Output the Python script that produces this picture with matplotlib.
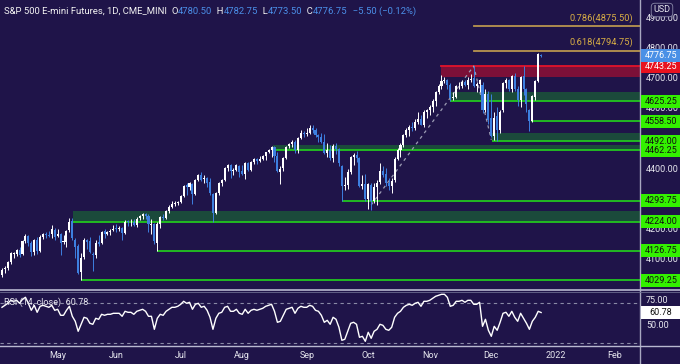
import matplotlib
matplotlib.use("Agg")
import matplotlib.pyplot as plt
from matplotlib.patches import Rectangle
from matplotlib.lines import Line2D
import numpy as np

# ---------------- data ----------------
opens = [4048, 4066, 4070, 4090, 4118, 4117, 4131, 4117, 4160, 4176, 4155, 4122, 4163, 4128, 4172, 4184, 4180, 4182, 4198,
         4178, 4185, 4158, 4158, 4196, 4228, 4165, 4142, 4058, 4106, 4163, 4160, 4118, 4112, 4157, 4152, 4192, 4184, 4190, 4196,
         4202, 4199, 4205, 4188, 4226, 4222, 4224, 4215, 4236, 4244, 4250, 4242, 4215, 4217, 4155, 4218, 4240, 4238, 4261, 4275, 4285, 4287,
         4290, 4310, 4346, 4340, 4350, 4318, 4365, 4380, 4366, 4370, 4358, 4318, 4255, 4320, 4355, 4364, 4405, 4415, 4395, 4396, 4410,
         4392, 4385, 4420, 4398, 4425, 4432, 4428, 4435, 4443, 4457, 4465, 4474, 4445, 4390, 4402, 4438, 4476, 4482, 4490, 4462, 4504, 4520,
         4515, 4520, 4535, 4530, 4513, 4507, 4490, 4455, 4463, 4437, 4478, 4468, 4410, 4345, 4348, 4390, 4440, 4447, 4437, 4345, 4350,
         4300, 4348, 4295, 4340, 4357, 4392, 4382, 4355, 4345, 4362, 4433, 4465, 4480, 4512, 4530, 4540, 4535, 4557, 4565, 4545, 4590,
         4597, 4605, 4628, 4655, 4675, 4692, 4695, 4680, 4635, 4640, 4675, 4675, 4690, 4680, 4698, 4703, 4678, 4683, 4680, 4595, 4650,
         4570, 4510, 4575, 4530, 4595, 4685, 4697, 4667, 4710, 4665, 4630, 4710, 4665, 4595, 4560, 4640, 4692, 4780.5]
highs = [4070, 4078, 4095, 4122, 4125, 4135, 4140, 4163, 4182, 4180, 4160, 4166, 4172, 4180, 4188, 4190, 4195, 4215, 4202,
         4200, 4188, 4180, 4198, 4238, 4236, 4170, 4150, 4120, 4170, 4168, 4175, 4125, 4165, 4180, 4195, 4200, 4195, 4200, 4215,
         4218, 4210, 4207, 4230, 4230, 4235, 4235, 4240, 4248, 4253, 4255, 4250, 4235, 4220, 4222, 4245, 4250, 4265, 4280, 4292, 4295, 4295,
         4312, 4348, 4355, 4358, 4352, 4368, 4383, 4390, 4380, 4375, 4370, 4320, 4325, 4358, 4368, 4408, 4418, 4418, 4405, 4418, 4412,
         4415, 4422, 4425, 4428, 4438, 4436, 4442, 4448, 4458, 4467, 4478, 4476, 4458, 4410, 4440, 4478, 4485, 4495, 4495, 4508, 4530, 4525,
         4535, 4545, 4548, 4535, 4518, 4520, 4518, 4485, 4480, 4482, 4485, 4470, 4415, 4375, 4400, 4445, 4452, 4460, 4440, 4380, 4385,
         4355, 4355, 4352, 4362, 4420, 4410, 4405, 4370, 4370, 4440, 4470, 4485, 4518, 4535, 4545, 4555, 4565, 4590, 4580, 4595, 4600,
         4612, 4632, 4660, 4682, 4712, 4705, 4700, 4688, 4655, 4680, 4690, 4698, 4695, 4705, 4715, 4743.25, 4690, 4700, 4690, 4665, 4660,
         4650, 4590, 4605, 4598, 4690, 4702, 4700, 4712, 4720, 4675, 4710, 4743, 4670, 4600, 4645, 4695, 4786, 4782.75]
lows = [4040, 4055, 4065, 4082, 4105, 4110, 4108, 4115, 4155, 4145, 4110, 4115, 4118, 4122, 4168, 4170, 4172, 4170, 4165,
        4172, 4115, 4150, 4140, 4190, 4165, 4105, 4050, 4029.25, 4100, 4135, 4120, 4060, 4105, 4145, 4150, 4170, 4180, 4180, 4192,
        4190, 4192, 4163, 4185, 4210, 4210, 4210, 4208, 4230, 4232, 4235, 4190, 4185, 4150, 4126.75, 4205, 4230, 4235, 4255, 4270, 4278, 4280,
        4288, 4308, 4315, 4330, 4285, 4315, 4360, 4360, 4355, 4340, 4315, 4224, 4250, 4315, 4345, 4360, 4395, 4370, 4380, 4392, 4375,
        4380, 4368, 4395, 4395, 4418, 4418, 4422, 4430, 4430, 4452, 4440, 4425, 4390, 4350, 4395, 4435, 4470, 4475, 4455, 4455, 4500, 4505,
        4510, 4515, 4520, 4505, 4490, 4485, 4450, 4440, 4430, 4425, 4450, 4410, 4293.75, 4330, 4335, 4385, 4415, 4425, 4340, 4335, 4295,
        4268, 4262, 4288, 4280, 4350, 4375, 4345, 4330, 4320, 4358, 4430, 4440, 4475, 4505, 4510, 4525, 4530, 4550, 4545, 4540, 4570,
        4580, 4590, 4610, 4650, 4665, 4685, 4665, 4625.25, 4630, 4635, 4668, 4670, 4675, 4665, 4690, 4672, 4655, 4655, 4585, 4590, 4550,
        4505, 4495, 4492, 4520, 4590, 4670, 4660, 4655, 4660, 4610, 4605, 4645, 4590, 4528, 4555, 4630, 4690, 4773.5]
closes = [4065, 4070, 4090, 4120, 4118, 4130, 4115, 4160, 4178, 4155, 4125, 4163, 4128, 4173, 4183, 4180, 4178, 4200, 4175,
          4185, 4155, 4158, 4195, 4225, 4170, 4140, 4055, 4105, 4165, 4158, 4125, 4112, 4155, 4150, 4190, 4183, 4190, 4195, 4200,
          4200, 4205, 4188, 4225, 4222, 4223, 4215, 4235, 4243, 4250, 4242, 4218, 4218, 4160, 4218, 4240, 4237, 4260, 4275, 4285, 4287, 4290,
          4310, 4345, 4340, 4353, 4318, 4365, 4380, 4365, 4370, 4355, 4320, 4255, 4320, 4355, 4363, 4405, 4415, 4395, 4395, 4412, 4390,
          4385, 4420, 4398, 4425, 4432, 4428, 4435, 4443, 4457, 4465, 4475, 4445, 4392, 4400, 4437, 4475, 4482, 4490, 4462, 4503, 4520, 4515,
          4520, 4535, 4530, 4513, 4507, 4490, 4455, 4463, 4437, 4478, 4468, 4420, 4345, 4348, 4390, 4440, 4447, 4437, 4345, 4350, 4300,
          4350, 4295, 4340, 4355, 4392, 4380, 4355, 4345, 4360, 4433, 4465, 4480, 4512, 4530, 4540, 4535, 4557, 4565, 4545, 4590, 4597,
          4605, 4628, 4655, 4675, 4692, 4695, 4680, 4635, 4640, 4675, 4675, 4690, 4680, 4698, 4700, 4678, 4683, 4695, 4595, 4650, 4562,
          4510, 4570, 4530, 4590, 4685, 4697, 4665, 4710, 4665, 4630, 4705, 4665, 4615, 4558.5, 4642, 4692, 4782.25, 4776.75]
rsi = [66, 68, 70, 73, 72, 73, 70, 74, 76, 70, 63, 68, 61, 67, 68, 67, 66, 68, 63,
       64, 58, 58, 63, 67, 57, 52, 42, 49, 56, 55, 50, 49, 55, 54, 59, 58, 59, 59, 60,
       60, 60, 57, 62, 61, 61, 59, 62, 63, 64, 62, 57, 57, 44, 55, 59, 58, 62, 64, 66, 66, 67,
       69, 72, 70, 71, 64, 69, 70, 66, 67, 63, 56, 44, 55, 60, 61, 66, 67, 62, 62, 64, 60,
       59, 64, 60, 63, 64, 63, 64, 65, 67, 68, 69, 62, 51, 52, 58, 64, 65, 66, 60, 65, 67, 66,
       66, 68, 67, 63, 62, 58, 51, 53, 49, 56, 54, 46, 33, 34, 42, 50, 51, 49, 36, 37, 32,
       41, 35, 42, 44, 49, 48, 44, 43, 46, 56, 60, 62, 66, 68, 69, 68, 70, 71, 67, 72, 72,
       73, 75, 77, 78, 79, 79, 76, 67, 68, 72, 72, 73, 71, 73, 73, 69, 69, 71, 47, 54, 43,
       37, 47, 43, 51, 60, 61, 57, 62, 56, 52, 60, 55, 50, 44, 52, 56, 62, 60.78]
assert len(opens) == len(highs) == len(lows) == len(closes) == len(rsi) == 185

month_labels = ["May", "Jun", "Jul", "Aug", "Sep", "Oct", "Nov", "Dec", "2022", "Feb"]
month_bars = [19, 39, 61, 82, 104, 125, 146, 167, 189, 209]
price_ticks = [4100, 4200, 4400, 4600, 4700, 4800, 4900]   # the others are hidden behind level boxes

support_levels = [4625.25, 4558.50, 4492.00, 4462.25, 4293.75, 4224.00, 4126.75, 4029.25]
support_starts = [153, 180.5, 167.2, 92.5, 116, 24.2, 53, 27]
zone_lows = [4224.0, 4462.25, 4492.0, 4625.25]
zone_highs = [4260.0, 4480.0, 4520.0, 4657.0]
zone_starts = [24.2, 92.5, 167.2, 153]
resist_level = 4743.25
resist_low = 4707.0
resist_start = 150
fib_labels = ["0.786", "0.618"]
fib_levels = [4875.50, 4794.75]
fib_start = 161
trend_bars = [126, 161, 167]
trend_prices = [4280, 4743.25, 4497.7]

# ---------------- style ----------------
BG = "#1f1449"
UP = "#ffffff"
DOWN = "#3d7fe0"
GRID_LINE = "#a8a8c0"
TXT = "#e6e6ee"
GREEN_LINE = "#22c61f"
GREEN_ZONE = "#1b4a3b"
GREEN_BOX = "#33f000"
RED_LINE = "#e3132b"
RED_ZONE = "#7c1038"
GOLD = "#b8954f"
GOLD_TXT = "#d9ae45"

W, H = 680, 364
plt.rcParams["font.family"] = ["Roboto", "DejaVu Sans"]
fig = plt.figure(figsize=(W / 100, H / 100), dpi=100, facecolor=BG)

AX_R = 640
ax = fig.add_axes([0, 74 / H, AX_R / W, 290 / H], facecolor=BG)
rax = fig.add_axes([0, 18 / H, AX_R / W, 55 / H], facecolor=BG, sharex=ax)

xmin, xmax = -0.68, (AX_R - 2) / 2.93
ax.set_xlim(xmin, xmax)
ax.set_ylim(3996.7, 4963.3)
rax.set_ylim(27.3, 82.3)

for a in (ax, rax):
    for s in a.spines.values():
        s.set_visible(False)
    a.tick_params(left=False, right=False, bottom=False, top=False,
                  labelleft=False, labelbottom=False)

# ---- zones & levels ----
for lo, hi, st in zip(zone_lows, zone_highs, zone_starts):
    ax.add_patch(Rectangle((st, lo), xmax - st, hi - lo, facecolor=GREEN_ZONE,
                           edgecolor="none", zorder=1))
ax.add_patch(Rectangle((resist_start, resist_low), xmax - resist_start,
                       resist_level - resist_low, facecolor=RED_ZONE, edgecolor="none", zorder=1))
for lv, st in zip(support_levels, support_starts):
    ax.plot([st, xmax], [lv, lv], color=GREEN_LINE, lw=1.3, zorder=2, solid_capstyle="butt")
ax.plot([resist_start, xmax], [resist_level, resist_level], color=RED_LINE, lw=1.3, zorder=2)

for lab, lv in zip(fib_labels, fib_levels):
    ax.plot([fib_start, xmax], [lv, lv], color=GOLD, lw=1.3, zorder=2)
    ax.annotate(f"{lab}({lv:.2f})", xy=(xmax, lv), xytext=(-5, 2.5), textcoords="offset points",
                ha="right", va="bottom", color=GOLD_TXT, fontsize=6.7, zorder=3)

ax.plot(trend_bars, trend_prices, color="#9c9cb4", lw=0.9, ls=(0, (2.5, 3)), zorder=2)

# ---- candles ----
idx = np.arange(len(closes))
o = np.array(opens); c = np.array(closes); h = np.array(highs); l = np.array(lows)
cols = [UP if cc >= oo else DOWN for oo, cc in zip(o, c)]
ax.vlines(idx, l, h, colors=cols, lw=0.7, zorder=4)
body_lo = np.minimum(o, c)
body_h = np.maximum(np.abs(c - o), 1.2)
ax.bar(idx, body_h, bottom=body_lo, width=0.7, color=cols, edgecolor="none", zorder=5)

# ---- RSI ----
rax.plot(idx, rsi, color="#ffffff", lw=1.0, zorder=3)
for lv in (70, 30):
    rax.axhline(lv, color="#8a8aa6", lw=0.8, ls=(0, (3, 3)), zorder=1)
rax.text(4 / AX_R, 0.8, f"RSI (14, close)  {rsi[-1]:.2f}", transform=rax.transAxes,
         color=TXT, fontsize=6.5, va="center", ha="left", zorder=4)

def fy(ypx):
    return (H - ypx) / H

# month labels
for lab, b in zip(month_labels, month_bars):
    xf = (2 + 2.93 * b) / W
    fig.text(xf, fy(355), lab, color=TXT, fontsize=6.5, ha="center", va="center")

# ---- frame lines in figure coords ----
fig.add_artist(Line2D([AX_R / W, AX_R / W], [0, 1], transform=fig.transFigure,
                      color=GRID_LINE, lw=1.0))
fig.add_artist(Line2D([0, 1], [fy(290), fy(290)], transform=fig.transFigure, color="#b8b8d0", lw=1.2))
fig.add_artist(Line2D([0, 1], [fy(292), fy(292)], transform=fig.transFigure, color="#6c6c90", lw=0.6))
fig.add_artist(Line2D([0, 1], [fy(346), fy(346)], transform=fig.transFigure, color="#b8b8d0", lw=1.0))

# ---- right axis labels ----
def price_to_fig(p, axis=ax):
    disp = axis.transData.transform((0, p))
    return fig.transFigure.inverted().transform(disp)[1]

for p in price_ticks:
    fig.text(646 / W, price_to_fig(p), f"{p:.2f}", color=TXT, fontsize=6.5, ha="left", va="center")

def box(yf, text, fc, tc):
    fig.add_artist(Rectangle((AX_R / W + 0.5 / W, yf - 6.5 / H), 40 / W, 13 / H,
                             transform=fig.transFigure, facecolor=fc, edgecolor="none", zorder=10))
    fig.text(661 / W, yf, text, color=tc, fontsize=6.5, ha="center", va="center", zorder=11)

for lv in support_levels:
    box(price_to_fig(lv), f"{lv:.2f}", GREEN_BOX, "#111111")
box(price_to_fig(resist_level), f"{resist_level:.2f}", "#e8121f", "#ffffff")
box(price_to_fig(closes[-1]), f"{closes[-1]:.2f}", "#4a90e6", "#ffffff")

for lv in (75, 50):
    fig.text(646 / W, price_to_fig(lv, rax) - 2 / H, f"{lv:.2f}", color=TXT, fontsize=6.5,
             ha="left", va="center")
box(price_to_fig(rsi[-1], rax), f"{rsi[-1]:.2f}", "#ffffff", "#111111")

fig.text(662 / W, fy(10), "USD", color=TXT, fontsize=6.5, ha="center", va="center",
         bbox=dict(boxstyle="round,pad=0.25,rounding_size=0.4", fc=BG, ec="#8888a8", lw=0.6))

# ---- header ----
fig.canvas.draw()
r = fig.canvas.get_renderer()
chg = closes[-1] - closes[-2]
pct = chg / closes[-2] * 100
BLUE_T = "#4b8fe8"
WH = "#f2f2f2"
pieces = [("S&P 500 E-mini Futures, 1D, CME_MINI  ", WH),
          ("O", WH), (f"{opens[-1]:.2f}", BLUE_T),
          ("  H", WH), (f"{highs[-1]:.2f}", BLUE_T),
          ("  L", WH), (f"{lows[-1]:.2f}", BLUE_T),
          ("  C", WH), (f"{closes[-1]:.2f}", BLUE_T),
          (f"  {chg:+.2f} ({pct:+.2f}%)".replace("-", "\u2212"), BLUE_T)]
x = 4.0
for txt, col in pieces:
    t = fig.text(x / W, fy(11), txt, color=col, fontsize=6.8, ha="left", va="center")
    bb = t.get_window_extent(renderer=r)
    x += bb.width

fig.savefig("out.png", dpi=100, facecolor=BG)
